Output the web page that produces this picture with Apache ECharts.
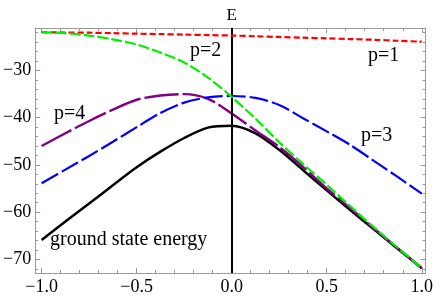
<!DOCTYPE html>
<html><head><meta charset="utf-8">
<script src="https://cdn.jsdelivr.net/npm/echarts@6/dist/echarts.min.js"></script>
<style>html,body{margin:0;padding:0;background:#fff}#c{width:436px;height:299px}</style>
</head><body><div id="c"></div>
<script>
const xs = [-1,-0.875,-0.75,-0.625,-0.5,-0.375,-0.25,-0.125,0,0.125,0.25,0.375,0.5,0.625,0.75,0.875,1];
const p1 = [-21.9,-21.95,-22.0,-22.1,-22.2,-22.3,-22.4,-22.5,-22.6,-22.75,-22.9,-23.05,-23.2,-23.35,-23.5,-23.7,-23.9];
const p2 = [-21.9,-22.1,-22.6,-23.4,-24.5,-26.2,-28.3,-31.5,-35.6,-40.2,-45.2,-49.8,-54.2,-58.8,-63.3,-67.6,-71.9];
const p3 = [-53.9,-51.0,-48.1,-45.1,-42.0,-39.0,-36.8,-35.7,-35.4,-35.8,-37.3,-40.1,-42.9,-45.8,-49.2,-52.6,-56.1];
const p4 = [-46.0,-43.3,-40.7,-38.3,-36.2,-35.3,-35.0,-36.0,-39.1,-42.7,-46.2,-50.4,-55.0,-59.2,-63.5,-67.7,-71.9];
const ground = [-65.9,-62.0,-58.2,-54.3,-50.5,-47.2,-44.3,-42.1,-41.7,-43.3,-46.8,-51.1,-55.4,-59.6,-63.7,-67.8,-71.9];
const xTicks = [-1,-0.5,0,0.5,1];
const xMinor = [-1,-0.9,-0.8,-0.7,-0.6,-0.5,-0.4,-0.3,-0.2,-0.1,0,0.1,0.2,0.3,0.4,0.5,0.6,0.7,0.8,0.9,1];
const yTicks = [-70,-60,-50,-40,-30];
const yMinor = [-72,-70,-68,-66,-64,-62,-60,-58,-56,-54,-52,-50,-48,-46,-44,-42,-40,-38,-36,-34,-32,-30,-28,-26,-24,-22];
const labels = ['p=1','p=2','p=3','p=4','ground state energy'];
const X_MIN=-1.034, X_MAX=1.02, Y_MIN=-72.9, Y_MAX=-21.0;
const fmt = v => { const s = (Math.abs(v)<1e-9?0:v); return (s<0?'\u2212':'') + Math.abs(s).toFixed(1); };
const fmtY = v => (v<0?'\u2212':'') + Math.abs(v).toFixed(0);
const axisCol = '#9a9a9a';
function xAx(pos, custom, len, showLabel, showLine){
  return {type:'value', position:pos, min:X_MIN, max:X_MAX, gridIndex:0,
    axisLine:{show:showLine, onZero:false, lineStyle:{color:axisCol,width:1}},
    axisTick:{show:true, inside:true, length:len, customValues:custom, lineStyle:{color:axisCol}},
    axisLabel:{show:showLabel, customValues:xTicks, formatter:fmt, color:'#000', fontFamily:'Liberation Serif', fontSize:18, margin:5},
    splitLine:{show:false}};
}
function yAx(pos, custom, len, showLabel, showLine){
  return {type:'value', position:pos, min:Y_MIN, max:Y_MAX, gridIndex:0,
    axisLine:{show:showLine, onZero:false, lineStyle:{color:axisCol,width:1}},
    axisTick:{show:true, inside:true, length:len, customValues:custom, lineStyle:{color:axisCol}},
    axisLabel:{show:showLabel, customValues:yTicks, formatter:fmtY, color:'#000', fontFamily:'Liberation Serif', fontSize:18, margin:4},
    splitLine:{show:false}};
}
function mk(name, arr, color, width, dash, z){
  return {name, type:'line', xAxisIndex:0, yAxisIndex:0, data: xs.map((x,i)=>[x,arr[i]]),
    showSymbol:false, smooth:0.3, z:z, lineStyle:{color, width, type:dash}};
}
const chart = echarts.init(document.getElementById('c'), null, {renderer:'canvas'});
const series = [
  mk('p=1', p1, '#ff0000', 2.2, [6,3], 5),
  mk('p=3', p3, '#0000ff', 2.2, [19,4], 4),
  mk('p=4', p4, '#800080', 2.4, [34,4], 3),
  mk('ground', ground, '#000000', 2.5, 'solid', 2),
  mk('p=2', p2, '#00ee00', 2.2, [11,3], 6)
];
series.push({type:'line', xAxisIndex:0, yAxisIndex:0, data:[], z:10,
  markLine:{silent:true, symbol:['none','none'], animation:false,
    lineStyle:{color:'#000', width:2, type:'solid'},
    label:{show:true, position:'end', formatter:'E', color:'#000', fontFamily:'Liberation Serif', fontSize:17, distance:4},
    data:[{xAxis:0}]}});
const lt = {fontFamily:'Liberation Serif', fontSize:20, fill:'#000'};
chart.setOption({
  animation:false,
  grid:{left:34, right:8, top:28, bottom:26, containLabel:false},
  xAxis:[xAx('bottom', xTicks, 5, true, true), xAx('bottom', xMinor, 3, false, false),
         xAx('top', xTicks, 5, false, true), xAx('top', xMinor, 3, false, false)],
  yAxis:[yAx('left', yTicks, 5, true, true), yAx('left', yMinor, 3, false, false),
         yAx('right', yTicks, 5, false, true), yAx('right', yMinor, 3, false, false)],
  series,
  graphic:[
    {type:'text', left:368, top:46, style:Object.assign({text:labels[0]}, lt)},
    {type:'text', left:190, top:41, style:Object.assign({text:labels[1]}, lt)},
    {type:'text', left:361, top:126, style:Object.assign({text:labels[2]}, lt)},
    {type:'text', left:54, top:104, style:Object.assign({text:labels[3]}, lt)},
    {type:'text', left:50, top:230, style:Object.assign({text:labels[4]}, lt)}
  ]
});
</script></body></html>
